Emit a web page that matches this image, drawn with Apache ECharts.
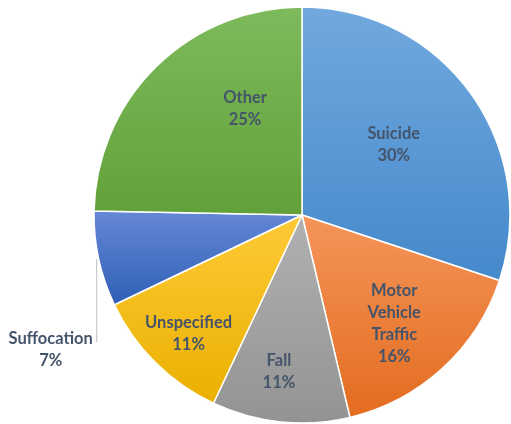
<!DOCTYPE html>
<html>
<head>
<meta charset="utf-8">
<script src="https://cdn.jsdelivr.net/npm/echarts@6/dist/echarts.min.js"></script>
<style>
html,body{margin:0;padding:0;background:#fff;}
#chart{width:511px;height:424px;}
</style>
</head>
<body>
<div id="chart"></div>
<script>
var categories = ['Suicide', 'Motor\nVehicle\nTraffic', 'Fall', 'Unspecified', 'Suffocation', 'Other'];
var values = [30.1, 16.2, 10.7, 10.9, 7.4, 24.7];
var topColors = ['#72A9DE', '#F5955A', '#B1B1B1', '#FFCA38', '#6688D6', '#7DBA5C'];
var bottomColors = ['#4489CB', '#E36C1F', '#939393', '#EAB000', '#2F5FB5', '#62A139'];
// label nudges (dx, dy) relative to the default inside position
var labelShift = [[5, -8], [20, 30], [-12, 50], [-38, 43], null, [18, -30]];

function grad(i) {
  return new echarts.graphic.LinearGradient(0, 0, 0, 1, [
    {offset: 0, color: topColors[i]},
    {offset: 1, color: bottomColors[i]}
  ]);
}

var data = categories.map(function (c, i) {
  var item = {name: c, value: values[i], itemStyle: {color: grad(i)}};
  if (i === 4) {
    item.label = {position: 'outside', align: 'center'};
    item.labelLine = {show: true, length: 10, length2: 10, lineStyle: {color: '#BFBFBF', width: 1}};
  }
  return item;
});

var chart = echarts.init(document.getElementById('chart'), null, {renderer: 'canvas'});
chart.setOption({
  animation: false,
  backgroundColor: '#ffffff',
  series: [{
    type: 'pie',
    center: [302, 215],
    radius: [0, 208],
    startAngle: 90,
    clockwise: true,
    percentPrecision: 0,
    avoidLabelOverlap: false,
    itemStyle: {borderColor: '#ffffff', borderWidth: 1.5},
    label: {
      show: true,
      position: 'inside',
      formatter: '{b}\n{d}%',
      fontFamily: 'Lato',
      fontWeight: 'bold',
      fontSize: 16.5,
      lineHeight: 22,
      color: '#44546A',
      align: 'center'
    },
    labelLine: {show: false},
    labelLayout: function (params) {
      var i = params.dataIndex;
      if (i === 4) {
        var p0 = params.labelLinePoints ? params.labelLinePoints[0] : [99, 260];
        var yEnd = p0[1] + 83;
        return {
          x: p0[0] - 48,
          y: yEnd - 14,
          align: 'center',
          verticalAlign: 'top',
          labelLinePoints: [[p0[0] - 2, p0[1]], [p0[0] - 2, yEnd], [p0[0] - 2, yEnd]]
        };
      }
      var s = labelShift[i];
      return {dx: s[0], dy: s[1]};
    },
    data: data
  }]
});
</script>
</body>
</html>
